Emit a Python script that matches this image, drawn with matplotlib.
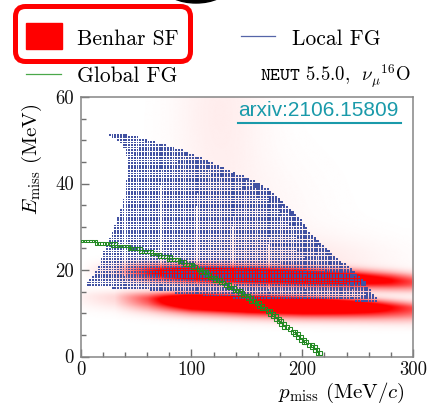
import numpy as np
import matplotlib
matplotlib.use("Agg")
import matplotlib.pyplot as plt
from matplotlib.colors import LinearSegmentedColormap
from matplotlib.patches import FancyBboxPatch, Rectangle, Ellipse
from matplotlib.lines import Line2D

plt.rcParams['font.family'] = ['cmr10', 'DejaVu Serif']
plt.rcParams['mathtext.fontset'] = 'cm'
plt.rcParams['axes.formatter.use_mathtext'] = True

# ---------------- data ----------------
x_ticks = [0, 100, 200, 300]
y_ticks = [0, 20, 40, 60]

# Local FG region: upper edge, lower edge, left edge
lfg_top_p = [22, 38, 53, 68, 87, 107, 119, 132, 150, 165, 180, 195, 207, 220, 234, 245, 255, 262, 268]
lfg_top_E = [51.6, 51.6, 50.6, 49.5, 48.2, 46.1, 45.0, 43.1, 41.5, 39.5, 36.6, 32.8, 28.8, 25.5, 22.3, 20.0, 17.7, 15.3, 13.1]
lfg_bot_p = [0, 50, 100, 150, 225, 270]
lfg_bot_E = [16.3, 15.6, 14.3, 13.2, 13.0, 12.8]
lfg_left_E = [16.3, 17.0, 20.0, 23.8, 27.6, 31.6, 35.4, 39.2, 43.1, 47.0, 48.4, 50.0, 51.6]
lfg_left_p = [3.9, 5.7, 14.7, 20.1, 26.5, 32.8, 38.2, 40.1, 42.8, 40.9, 38.3, 33.7, 21.9]

# Global FG curve
gfg_p = [0, 17, 41, 71, 89, 101, 119, 150, 171, 192, 216]
gfg_E = [26.9, 26.3, 25.4, 23.5, 22.1, 21.0, 18.3, 14.0, 10.1, 5.6, 0.8]

# Benhar SF: two shell bands + diffuse haze
sf_p = [0, 30, 60, 100, 150, 200, 250, 280, 300, 330]
band_hi_E = [19.8, 19.6, 19.3, 19.0, 18.6, 18.2, 17.7, 17.3, 17.0, 16.6]
band_hi_amp = [0.0, 0.15, 0.9, 1.6, 1.7, 1.6, 1.3, 1.0, 0.7, 0.4]
band_lo_E = [13.6, 13.4, 13.1, 12.8, 12.3, 11.9, 11.5, 11.1, 10.8, 10.4]
band_lo_amp = [0.05, 0.15, 0.7, 1.9, 2.2, 2.1, 1.5, 1.0, 0.7, 0.4]
haze_p = [125, 190, 150]
haze_E = [57, 22, 32]
haze_sp = [28, 60, 45]
haze_sE = [14, 4, 10]
haze_amp = [0.07, 0.09, 0.04]

# ---------------- figure ----------------
W, H = 429, 404
fig = plt.figure(figsize=(W / 100, H / 100), dpi=100)
x0, x1, y0, y1 = 80.7, 413.0, 97.0, 356.5
ax = fig.add_axes([x0 / W, 1 - y1 / H, (x1 - x0) / W, (y1 - y0) / H])
ax.set_xlim(0, 300)
ax.set_ylim(0, 60)

# ---- Benhar SF density ----
pg = np.arange(0, 300.5, 1.0)
eg = np.arange(0, 60.05, 0.2)
PG, EG = np.meshgrid(pg, eg)
dens = np.zeros_like(PG)
chi = np.interp(PG, sf_p, band_hi_E)
ahi = np.interp(PG, sf_p, band_hi_amp)
sig_hi = np.where(EG > chi, 1.3, 1.4)
dens += ahi * np.exp(-0.5 * ((EG - chi) / sig_hi) ** 2)
clo = np.interp(PG, sf_p, band_lo_E)
alo = np.interp(PG, sf_p, band_lo_amp)
sig_lo = np.where(EG > clo, 1.1, 1.8)
dens += alo * np.exp(-0.5 * ((EG - clo) / sig_lo) ** 2)
for hp, he, hsp, hse, ha in zip(haze_p, haze_E, haze_sp, haze_sE, haze_amp):
    dens += ha * np.exp(-0.5 * (((PG - hp) / hsp) ** 2 + ((EG - he) / hse) ** 2))
reds = LinearSegmentedColormap.from_list('wr', ['#ffffff', '#ff0000'])
ax.imshow(np.clip(dens, 0, 1), extent=[0, 300, 0, 60], origin='lower', aspect='auto',
          cmap=reds, vmin=0, vmax=1, interpolation='bilinear', zorder=1)

# ---- Local FG boxes ----
pb = np.arange(1.25, 300, 2.5)
eb = np.arange(0.3, 60, 0.6)
PB, EB = np.meshgrid(pb, eb)
top = np.interp(PB, lfg_top_p, lfg_top_E, left=lfg_top_E[0], right=-1)
bot = np.interp(PB, lfg_bot_p, lfg_bot_E)
left = np.interp(EB, lfg_left_E, lfg_left_p, left=lfg_left_p[0], right=1000)
mask = (EB <= top) & (EB >= bot) & (PB >= left)
d = top - EB
w = 0.35 + 0.65 * np.exp(-d / 4.0) * np.clip((PB - 30) / 130, 0.2, 1) + 0.3 * np.exp(-(EB - bot) / 1.0)
w = np.clip(w, 0, 1)
side_px = 1.5 + 0.7 * w
ax.scatter(PB[mask], EB[mask], s=(side_px[mask] * 0.72) ** 2, marker='s',
           color='#4252a2', linewidths=0, zorder=2)

# ---- Global FG boxes ----
gp = np.arange(1.25, 218, 2.5)
gE = np.interp(gp, gfg_p, gfg_E)
slope = np.abs(np.gradient(gE, gp))
gx, gy, gs = [], [], []
for p_, e_, sl in zip(gp, gE, slope):
    h = 0.35 + 0.5 * sl * 2.5 / 2
    for ec in eb:
        if abs(ec - e_) <= h:
            gx.append(p_)
            gy.append(ec)
            gs.append(2.0 + 2.0 * min(1.0, sl / 0.2))
gs = np.array(gs)
ax.scatter(gx, gy, s=(gs * 0.72) ** 2, marker='s', facecolors='none',
           edgecolors='#238a23', linewidths=0.75, zorder=3)

# ---- axes styling ----
for s in ax.spines.values():
    s.set_color('#858585')
    s.set_linewidth(1.1)
ax.set_xticks(x_ticks)
ax.set_yticks(y_ticks)
ax.set_xticks(np.arange(0, 301, 20), minor=True)
ax.set_yticks(np.arange(0, 61, 5), minor=True)
ax.tick_params(which='both', direction='in', color='#707070', width=1.0,
               top=False, right=False, labelsize=13.5, labelcolor='#111111')
ax.tick_params(which='major', length=6)
ax.tick_params(axis='x', which='major', pad=3)
ax.tick_params(axis='y', which='major', pad=5)
ax.tick_params(which='minor', length=3.5)
ax.set_xticklabels([str(v) for v in x_ticks])
ax.set_yticklabels([str(v) for v in y_ticks])

# ---- overlay in pixel coordinates ----
ov = fig.add_axes([0, 0, 1, 1], zorder=10)
ov.set_xlim(0, W)
ov.set_ylim(H, 0)
ov.axis('off')
ov.patch.set_alpha(0)

ov.add_patch(Ellipse((196, -12), 62, 30, color='black'))
ov.add_patch(FancyBboxPatch((15.5, 6.5), 175, 55, boxstyle='round,pad=0,rounding_size=10',
                            fill=False, edgecolor='#ff0000', linewidth=3.6))
ov.add_patch(Rectangle((26, 23), 36, 26, color='#ff0000'))
ov.text(77, 45, 'Benhar SF', fontsize=15.5, va='baseline', ha='left')
ov.add_line(Line2D([241, 275], [35.5, 35.5], color='#5565a8', lw=0.9))
ov.text(292, 45, 'Local FG', fontsize=15.5, va='baseline', ha='left')
ov.add_line(Line2D([26, 61], [74, 74], color='#4aa84a', lw=0.9))
ov.text(77, 82, 'Global FG', fontsize=15.5, va='baseline', ha='left')
ov.text(260, 82, r'$\mathtt{NEUT}$ 5.5.0,  $\nu_{\mu}{}^{16}\mathrm{O}$', fontsize=13.5,
        va='baseline', ha='left')

ov.text(238, 116, 'arxiv:2106.15809', fontsize=15, color='#1a9aaa',
        family=['Liberation Sans', 'DejaVu Sans'], va='baseline', ha='left')
ov.add_line(Line2D([238, 401], [122.5, 122.5], color='#1a9aaa', lw=1.5))

ov.text(405, 398, r'$p_{\rm miss}$ (MeV$/c$)', fontsize=15, va='baseline', ha='right')
ov.text(32, 104, r'$E_{\rm miss}$ (MeV)', fontsize=15, rotation=90, va='top', ha='center')

fig.savefig('out.png', dpi=100)
